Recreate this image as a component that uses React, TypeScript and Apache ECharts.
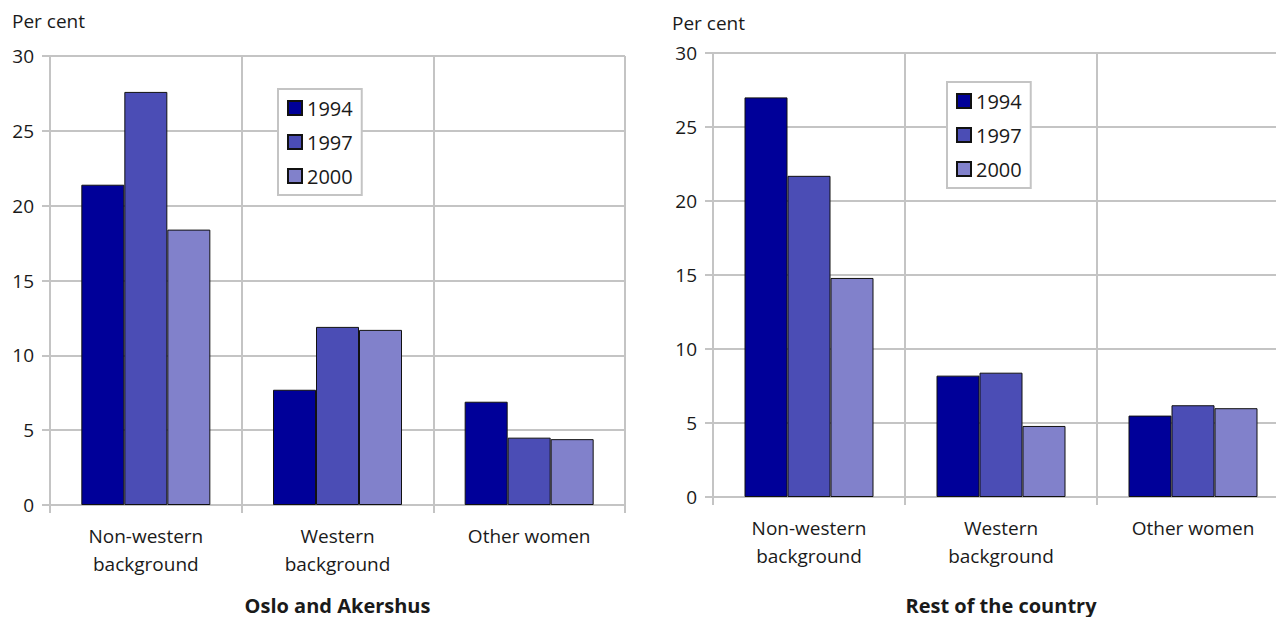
import React, { useEffect, useRef } from "react";
import * as echarts from "echarts";

// Categories and tick values
const categories = ["Non-western\nbackground", "Western\nbackground", "Other women"];
const years = ["1994", "1997", "2000"];
const yTicks = [0, 5, 10, 15, 20, 25, 30];

// Per cent, Oslo and Akershus
const oslo1994 = [21.4, 7.7, 6.9];
const oslo1997 = [27.6, 11.9, 4.5];
const oslo2000 = [18.4, 11.7, 4.4];

// Per cent, rest of the country
const rest1994 = [27.0, 8.2, 5.5];
const rest1997 = [21.7, 8.4, 6.2];
const rest2000 = [14.8, 4.8, 6.0];

const panelTitles = ["Oslo and Akershus", "Rest of the country"];
const yearColors = ["#000099", "#4b4db5", "#8181cb"];

const FONT = "'Open Sans', 'Noto Sans', sans-serif";
const GRID_GRAY = "#c4c4c4";
const TEXT = "#1a1a1a";

export default function App() {
  const ref = useRef<HTMLDivElement>(null);

  useEffect(() => {
    document.body.style.margin = "0";
    if (!ref.current) return;
    const chart = echarts.init(ref.current, undefined, { renderer: "svg" });

    // The right-hand panel runs past the visible edge, so the canvas is wider
    // than the clipping frame around it; grids keep their exact boxes.
    const grids = [
      { left: 50, top: 56, width: 575, height: 449, outerBoundsMode: "none", containLabel: false },
      { left: 713, top: 53, width: 576, height: 444, outerBoundsMode: "none", containLabel: false },
    ];
    const titleGaps = [90, 98];

    const xAxis = [0, 1].map((i) => ({
      type: "category",
      gridIndex: i,
      data: categories,
      name: panelTitles[i],
      nameLocation: "middle",
      nameGap: titleGaps[i],
      nameTextStyle: { fontFamily: FONT, fontSize: 20, fontWeight: "bold", color: TEXT },
      axisLine: { show: true, lineStyle: { color: GRID_GRAY, width: 2 } },
      axisTick: { show: true, length: 8, lineStyle: { color: GRID_GRAY, width: 2 } },
      axisLabel: {
        fontFamily: FONT,
        fontSize: 19,
        color: TEXT,
        lineHeight: 28,
        margin: 17,
        interval: 0,
      },
      splitLine: { show: true, lineStyle: { color: GRID_GRAY, width: 2 } },
    }));

    const yAxis = [0, 1].map((i) => ({
      type: "value",
      gridIndex: i,
      min: yTicks[0],
      max: yTicks[yTicks.length - 1],
      interval: yTicks[1] - yTicks[0],
      axisLine: { show: true, lineStyle: { color: GRID_GRAY, width: 2 } },
      axisTick: { show: true, length: 8, lineStyle: { color: GRID_GRAY, width: 2 } },
      axisLabel: { fontFamily: FONT, fontSize: 19, color: TEXT, margin: 16 },
      splitLine: { show: true, lineStyle: { color: GRID_GRAY, width: 2 } },
    }));

    const panelData = [
      [oslo1994, oslo1997, oslo2000],
      [rest1994, rest1997, rest2000],
    ];

    const series: any[] = [];
    panelData.forEach((sets, p) => {
      sets.forEach((values, k) => {
        series.push({
          type: "bar",
          name: years[k],
          xAxisIndex: p,
          yAxisIndex: p,
          data: values,
          barWidth: 43,
          barGap: "0%",
          itemStyle: { color: yearColors[k], borderColor: "#111", borderWidth: 1 },
        });
      });
    });

    const legendBase = {
      orient: "vertical",
      data: years,
      backgroundColor: "#fff",
      borderColor: GRID_GRAY,
      borderWidth: 2,
      padding: [8, 9, 8, 9],
      itemWidth: 14,
      itemHeight: 14,
      itemGap: 12,
      icon: "rect",
      selectedMode: false,
      textStyle: { fontFamily: FONT, fontSize: 20, color: TEXT, lineHeight: 22 },
    };

    chart.setOption({
      animation: false,
      grid: grids,
      xAxis,
      yAxis,
      series,
      legend: [
        { ...legendBase, left: 278, top: 89 },
        { ...legendBase, left: 947, top: 82 },
      ],
      graphic: [
        {
          type: "text",
          left: 12,
          top: 11,
          style: { text: "Per cent", font: `19px ${FONT}`, fill: TEXT },
        },
        {
          type: "text",
          left: 672,
          top: 13,
          style: { text: "Per cent", font: `19px ${FONT}`, fill: TEXT },
        },
      ],
    });

    return () => chart.dispose();
  }, []);

  return (
    <div style={{ width: 1276, height: 617, overflow: "hidden", position: "relative" }}>
      <div ref={ref} style={{ width: 1310, height: 617 }} />
    </div>
  );
}
